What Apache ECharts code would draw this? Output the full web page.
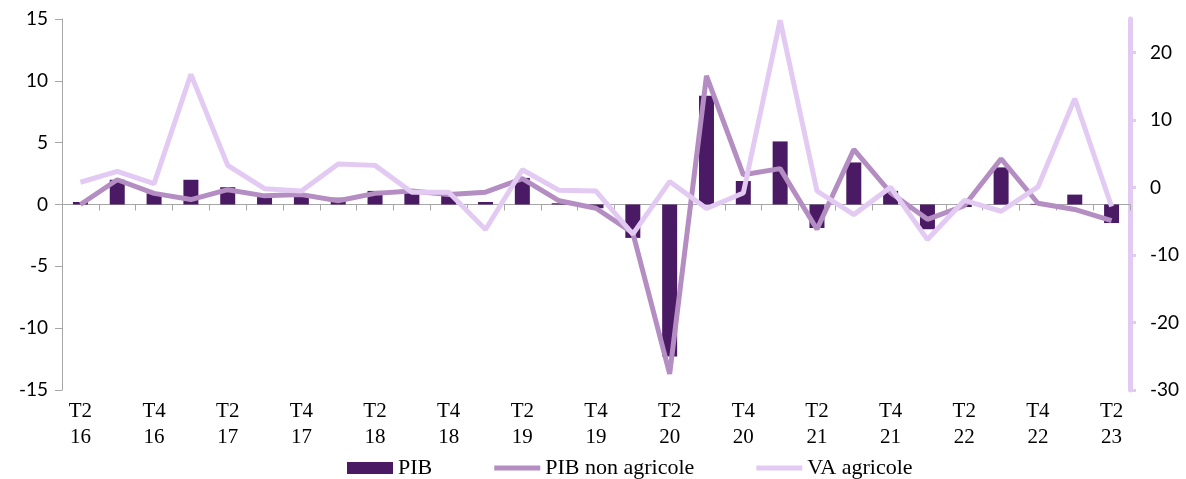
<!DOCTYPE html>
<html>
<head>
<meta charset="utf-8">
<script src="https://cdn.jsdelivr.net/npm/echarts@6/dist/echarts.min.js"></script>
<style>
  html, body { margin: 0; padding: 0; background: #ffffff; }
  #chart { width: 1186px; height: 479px; }
</style>
</head>
<body>
<div id="chart"></div>
<script>
// Quarterly growth, T2 2016 – T2 2023
const quarters = [
  'T2\n16', 'T3\n16', 'T4\n16', 'T1\n17', 'T2\n17', 'T3\n17', 'T4\n17', 'T1\n18',
  'T2\n18', 'T3\n18', 'T4\n18', 'T1\n19', 'T2\n19', 'T3\n19', 'T4\n19', 'T1\n20',
  'T2\n20', 'T3\n20', 'T4\n20', 'T1\n21', 'T2\n21', 'T3\n21', 'T4\n21', 'T1\n22',
  'T2\n22', 'T3\n22', 'T4\n22', 'T1\n23', 'T2\n23'
];

// PIB (left axis)
const pib = [
  0.2, 2.0, 0.9, 2.0, 1.4, 0.7, 0.8, 0.55, 1.1, 0.95, 0.8, 0.2, 2.15, 0.1, -0.3,
  -2.7, -12.3, 8.8, 1.9, 5.1, -1.9, 3.4, 1.1, -2.0, -0.2, 3.0, 0.05, 0.8, -1.5
];

// PIB non agricole (left axis)
const pibNonAgricole = [
  0.0, 2.0, 0.9, 0.4, 1.2, 0.7, 0.8, 0.3, 0.9, 1.1, 0.8, 1.0, 2.1, 0.3, -0.3,
  -2.3, -13.7, 10.4, 2.4, 2.9, -2.0, 4.45, 0.95, -1.2, -0.1, 3.7, 0.1, -0.4, -1.3
];

// VA agricole (right axis)
const vaAgricole = [
  0.8, 2.4, 0.6, 16.8, 3.3, -0.15, -0.5, 3.5, 3.3, -0.7, -0.7, -6.2, 2.65, -0.4, -0.5,
  -6.9, 0.9, -3.1, -0.8, 24.8, -0.5, -4.0, 0.05, -7.7, -1.9, -3.5, 0.1, 13.2, -2.8
];

const leftAxis = { min: -15, max: 15, interval: 5 };
const rightAxis = { min: -30, max: 25, interval: 10 };

const colPib = '#4a1a64';
const colNonAgri = '#b48dc2';
const colVa = '#e3caf3';
const axisGrey = '#a6a6a6';
const serif = '"Liberation Serif", "DejaVu Serif", serif';
const sans = 'Lato, "Open Sans", sans-serif';
// flat bar used as the legend key of the two line series
const lineKey = 'path://M0,0H46V5H0Z';

const chart = echarts.init(document.getElementById('chart'), null, { renderer: 'canvas' });

chart.setOption({
  animation: false,
  backgroundColor: '#ffffff',
  grid: { left: 62, right: 56, top: 19, bottom: 89, containLabel: false },
  legend: {
    top: 452,
    left: 342,
    itemWidth: 46,
    itemHeight: 12,
    itemGap: 62,
    textStyle: { fontFamily: serif, fontSize: 22, color: '#000' },
    data: [
      { name: 'PIB', icon: 'rect' },
      { name: 'PIB non agricole', icon: lineKey },
      { name: 'VA agricole', icon: lineKey }
    ]
  },
  xAxis: [
    {
      type: 'category',
      data: quarters,
      boundaryGap: true,
      axisLine: { show: true, onZero: true, onZeroAxisIndex: 0, lineStyle: { color: axisGrey, width: 1 } },
      axisTick: { show: true, interval: 0, length: 6, inside: false, lineStyle: { color: axisGrey } },
      axisLabel: { show: false },
      splitLine: { show: false }
    },
    {
      type: 'category',
      data: quarters,
      position: 'bottom',
      boundaryGap: true,
      axisLine: { show: false, onZero: false },
      axisTick: { show: false },
      axisLabel: {
        show: true,
        interval: 1,
        margin: 8,
        fontFamily: serif,
        fontSize: 21,
        lineHeight: 26,
        color: '#000'
      },
      splitLine: { show: false }
    }
  ],
  yAxis: [
    {
      type: 'value',
      position: 'left',
      min: leftAxis.min,
      max: leftAxis.max,
      interval: leftAxis.interval,
      axisLine: { show: true, lineStyle: { color: axisGrey, width: 1 } },
      axisTick: { show: true, length: 7, lineStyle: { color: axisGrey } },
      axisLabel: { margin: 14, fontFamily: sans, fontSize: 19, color: '#000' },
      splitLine: { show: false }
    },
    {
      type: 'value',
      position: 'right',
      min: rightAxis.min,
      max: rightAxis.max,
      interval: rightAxis.interval,
      axisLine: { show: true, lineStyle: { color: colVa, width: 5 } },
      axisTick: { show: true, length: 6, lineStyle: { color: colVa, width: 3 } },
      axisLabel: { margin: 20, fontFamily: sans, fontSize: 19, color: '#000', showMaxLabel: false },
      splitLine: { show: false }
    }
  ],
  series: [
    {
      name: 'PIB',
      type: 'bar',
      xAxisIndex: 0,
      yAxisIndex: 0,
      data: pib,
      barWidth: 15,
      itemStyle: { color: colPib },
      z: 2
    },
    {
      name: 'PIB non agricole',
      type: 'line',
      xAxisIndex: 0,
      yAxisIndex: 0,
      data: pibNonAgricole,
      symbol: 'none',
      lineStyle: { color: colNonAgri, width: 5 },
      itemStyle: { color: colNonAgri },
      z: 3
    },
    {
      name: 'VA agricole',
      type: 'line',
      xAxisIndex: 0,
      yAxisIndex: 1,
      data: vaAgricole,
      symbol: 'none',
      lineStyle: { color: colVa, width: 5 },
      itemStyle: { color: colVa },
      z: 4
    }
  ]
});
</script>
</body>
</html>
